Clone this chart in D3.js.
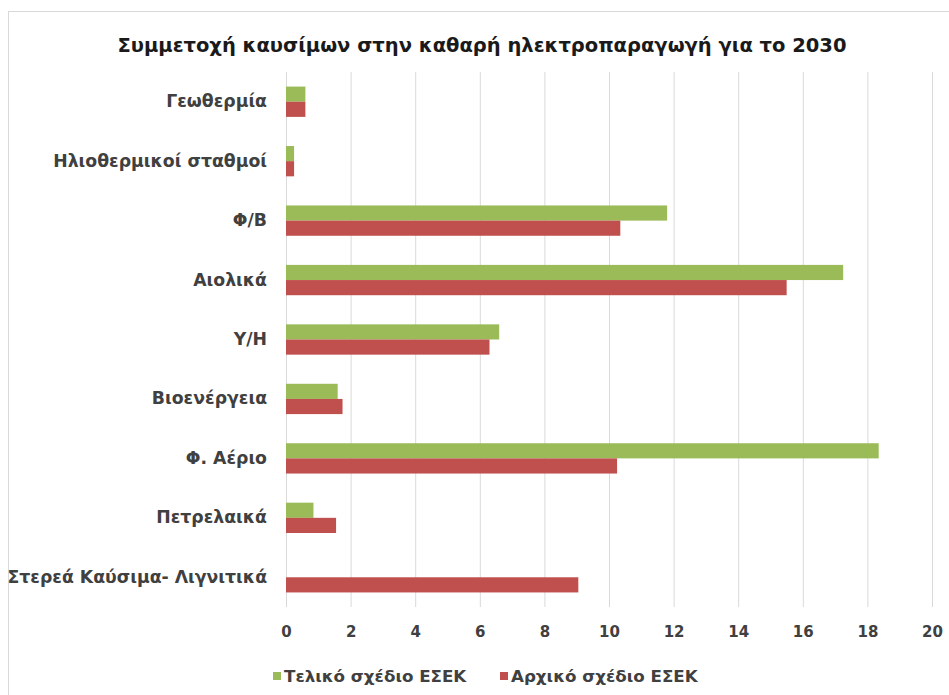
<!DOCTYPE html>
<html>
<head>
<meta charset="utf-8">
<script src="https://cdn.jsdelivr.net/npm/d3@7"></script>
<style>
  body { margin: 0; background: #fff; }
  text { font-family: "DejaVu Sans", "Open Sans", sans-serif; }
</style>
</head>
<body>
<div id="chart"></div>
<script>
var categories = ["Γεωθερμία", "Ηλιοθερμικοί σταθμοί", "Φ/Β", "Αιολικά", "Υ/Η",
                  "Βιοενέργεια", "Φ. Αέριο", "Πετρελαικά", "Στερεά Καύσιμα- Λιγνιτικά"];
var finalPlan = [0.6, 0.25, 11.8, 17.25, 6.6, 1.6, 18.35, 0.85, 0];
var initialPlan = [0.6, 0.25, 10.35, 15.5, 6.3, 1.75, 10.25, 1.55, 9.05];
var seriesNames = ["Τελικό σχέδιο ΕΣΕΚ", "Αρχικό σχέδιο ΕΣΕΚ"];
var colors = ["#9bbb59", "#c0504d"];
var xTicks = [0, 2, 4, 6, 8, 10, 12, 14, 16, 18, 20];
var title = "Συμμετοχή καυσίμων στην καθαρή ηλεκτροπαραγωγή για το 2030";

var W = 949, H = 695;
var margin = { top: 72, right: 17, bottom: 88, left: 286 },
    w = W - margin.left - margin.right,
    h = H - margin.top - margin.bottom;

var svg = d3.select("#chart").append("svg").attr("width", W).attr("height", H);

// chart border
svg.append("rect").attr("x", 8.5).attr("y", 11.5).attr("width", 945).attr("height", 700)
  .attr("fill", "none").attr("stroke", "#d9d9d9");

svg.append("text").attr("x", 482).attr("y", 52).attr("text-anchor", "middle")
  .attr("font-size", "19.5px").attr("font-weight", "bold").attr("fill", "#1a1a1a")
  .text(title);

var g = svg.append("g").attr("transform", "translate(" + margin.left + "," + margin.top + ")");

var xScale = d3.scaleLinear().domain([0, 20]).range([0, w]);
var yScale = d3.scaleBand().domain(categories).range([0, h]).paddingInner(0.49).paddingOuter(0.245);
var ySub = d3.scaleBand().domain([0, 1]).range([0, yScale.bandwidth()]);

// gridlines
g.selectAll(".grid").data(xTicks).enter().append("line").attr("class", "grid")
  .attr("x1", function (d) { return xScale(d) + 0.5; })
  .attr("x2", function (d) { return xScale(d) + 0.5; })
  .attr("y1", 0).attr("y2", h)
  .attr("stroke", "#d9d9d9").attr("stroke-width", 1);

var xAxis = d3.axisBottom(xScale).tickValues(xTicks).tickSize(0).tickPadding(19);
var xg = g.append("g").attr("transform", "translate(0," + h + ")").call(xAxis);
xg.select(".domain").remove();
xg.selectAll("text").attr("font-size", "15px").attr("font-weight", "bold").attr("fill", "#404040")
  .style("font-family", "'DejaVu Sans', sans-serif");

var yAxis = d3.axisLeft(yScale).tickSize(0).tickPadding(19);
var yg = g.append("g").call(yAxis);
yg.select(".domain").remove();
yg.selectAll("text").attr("font-size", "17.3px").attr("font-weight", "bold").attr("fill", "#404040")
  .style("font-family", "'DejaVu Sans', sans-serif");

var series = [finalPlan, initialPlan];
series.forEach(function (vals, s) {
  g.selectAll(".bar" + s).data(vals).enter().append("rect").attr("class", "bar" + s)
    .attr("x", 0)
    .attr("y", function (d, i) { return yScale(categories[i]) + ySub(s); })
    .attr("width", function (d) { return xScale(d); })
    .attr("height", ySub.bandwidth())
    .attr("fill", colors[s]);
});

// legend
var legendX = [273, 500];
var lg = svg.selectAll(".legend").data(seriesNames).enter().append("g").attr("class", "legend")
  .attr("transform", function (d, i) { return "translate(" + legendX[i] + ",676)"; });
lg.append("rect").attr("x", 0).attr("y", -4).attr("width", 8).attr("height", 8)
  .attr("fill", function (d, i) { return colors[i]; });
lg.append("text").attr("x", 11).attr("y", 5.5).attr("font-size", "16.7px").attr("font-weight", "bold")
  .attr("fill", "#404040").text(function (d) { return d; });
</script>
</body>
</html>
